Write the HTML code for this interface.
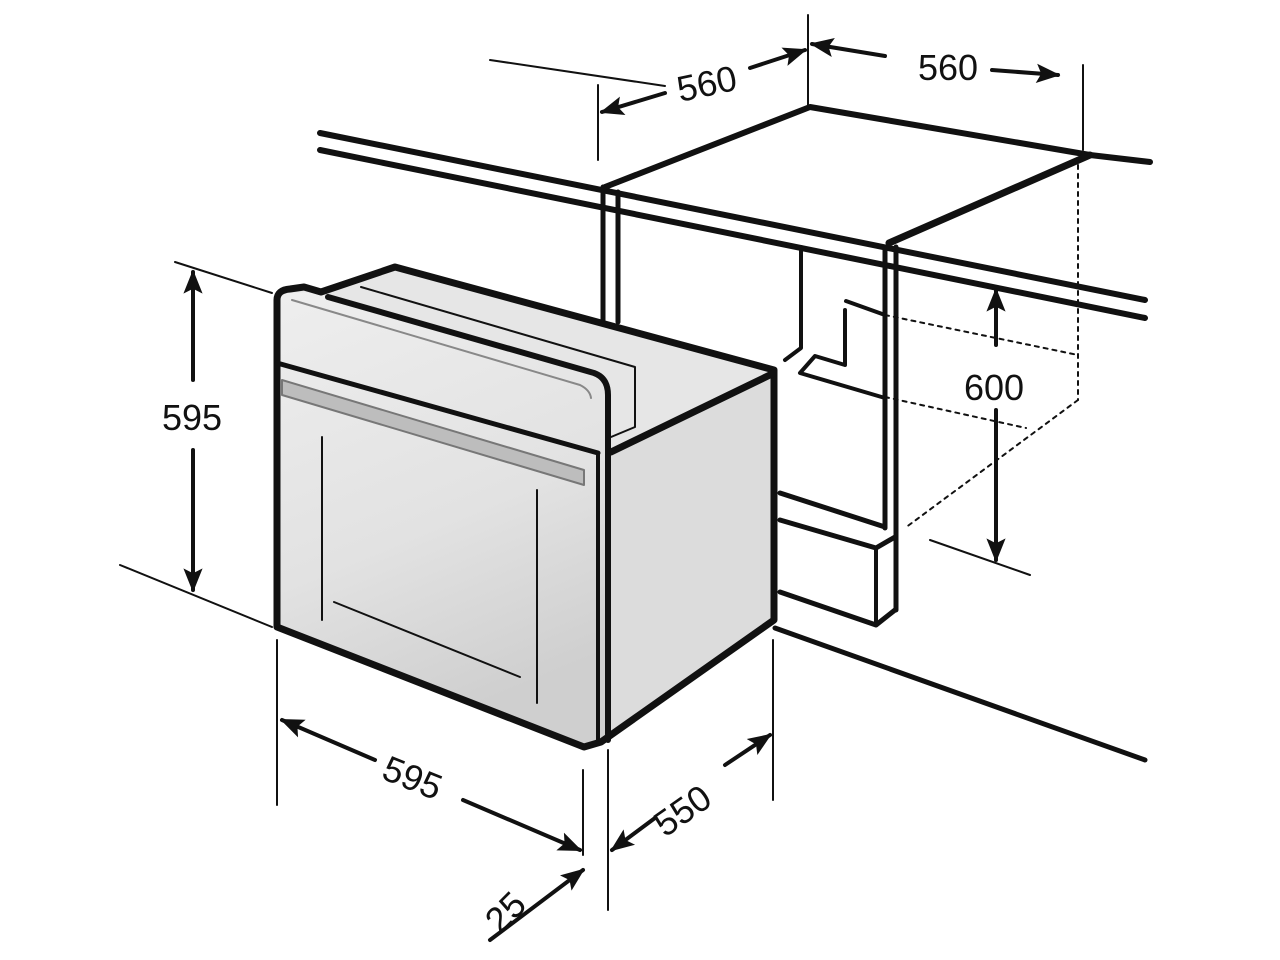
<!DOCTYPE html>
<html><head><style>
html,body{margin:0;padding:0;background:#fff;}
svg{display:block;}
text{font-family:"Liberation Sans",sans-serif;font-size:36px;fill:#111;}
</style></head><body>
<svg width="1280" height="960" viewBox="0 0 1280 960" xmlns="http://www.w3.org/2000/svg">
<defs>
<marker id="ah" viewBox="0 0 10 10" refX="9" refY="5" markerWidth="6" markerHeight="6" orient="auto-start-reverse">
<path d="M0,1 L10,5 L0,9 L2,5 z" fill="#111"/></marker>
<linearGradient id="fr" x1="0" y1="0" x2="0.3" y2="1">
<stop offset="0" stop-color="#eeeeee"/><stop offset="0.6" stop-color="#e2e2e2"/><stop offset="1" stop-color="#cfcfcf"/></linearGradient>
</defs>
<g stroke="#111" fill="none" stroke-linecap="round" stroke-linejoin="round">
<!-- countertop -->
<line x1="320" y1="133" x2="1145" y2="300" stroke-width="6"/>
<line x1="320" y1="150" x2="1145" y2="318" stroke-width="6"/>
<!-- niche top -->
<polyline points="605,187 810,107 1090,155 1150,162" stroke-width="6"/>
<line x1="1090" y1="155" x2="889" y2="243" stroke-width="7"/>
<!-- niche verticals -->
<line x1="603" y1="187" x2="603" y2="330" stroke-width="5"/>
<line x1="618" y1="192" x2="618" y2="322" stroke-width="5"/>
<line x1="885" y1="247" x2="885" y2="528" stroke-width="5"/>
<line x1="896" y1="247" x2="896" y2="610" stroke-width="5"/>
<!-- inner wall -->
<polyline points="801,247 801,348 785,360" stroke-width="4"/>
<line x1="846" y1="301" x2="885" y2="315" stroke-width="4"/>
<polyline points="845,310 845,365 815,356 800,373 885,398" stroke-width="4"/>
<!-- dashed -->
<g stroke-width="2" stroke-dasharray="4,5">
<line x1="885" y1="315" x2="1078" y2="355"/>
<line x1="1078" y1="165" x2="1078" y2="400"/>
<line x1="1078" y1="400" x2="905" y2="528"/>
<line x1="885" y1="397" x2="1026" y2="428"/>
</g>
<!-- plinth -->
<line x1="780" y1="493" x2="885" y2="527" stroke-width="5"/>
<polyline points="780,520 876,548 895,537" stroke-width="5"/>
<line x1="876" y1="548" x2="876" y2="625" stroke-width="4"/>
<polyline points="780,592 876,625 895,610" stroke-width="5"/>
<line x1="775" y1="628" x2="1145" y2="760" stroke-width="5"/>
<!-- 600 -->
<line x1="930" y1="540" x2="1030" y2="575" stroke-width="2"/>
<line x1="996" y1="290" x2="996" y2="345" stroke-width="4" marker-start="url(#ah)"/>
<line x1="996" y1="410" x2="996" y2="560" stroke-width="4" marker-end="url(#ah)"/>
<!-- oven top face -->
<path d="M277,293 L304,287 L321,292 L395,267 L774,370 L611,450 L608,390 Z" fill="#e6e6e6" stroke="none"/>
<!-- side face -->
<path d="M608,453 L774,373 L774,620 L601,740 Z" fill="#dcdcdc" stroke="none"/>
<!-- front -->
<path d="M277,293 L321,292 L594,373 Q608,378 608,395 L608,740 L584,747 L277,627 Z" fill="url(#fr)" stroke="none"/>
<!-- handle -->
<path d="M282,380 L584,470 L584,485 L282,395 Z" fill="#bdbdbd" stroke="#777" stroke-width="2"/>
<!-- oven outlines -->
<path d="M277,627 L277,300 Q277,290 290,289 L304,287 L321,292 L395,267 L774,370 L774,620 L601,742 L584,747 L277,627" stroke-width="7"/>
<path d="M328,297 L594,373 Q608,378 608,395 L608,740" stroke-width="6"/>
<line x1="277" y1="363" x2="598" y2="453" stroke-width="5"/>
<line x1="598" y1="453" x2="598" y2="740" stroke-width="4"/>
<line x1="611" y1="452" x2="774" y2="373" stroke-width="7"/>
<polyline points="361,287 635,367 635,427 611,437" stroke-width="2"/>
<path d="M292,300 L580,385 Q590,390 591,398" stroke="#888" stroke-width="2"/>
<line x1="322" y1="437" x2="322" y2="620" stroke-width="2"/>
<line x1="537" y1="490" x2="537" y2="703" stroke-width="2"/>
<line x1="334" y1="602" x2="520" y2="677" stroke-width="2"/>
<!-- left 595 -->
<line x1="175" y1="262" x2="272" y2="293" stroke-width="2"/>
<line x1="120" y1="565" x2="272" y2="627" stroke-width="2"/>
<line x1="193" y1="272" x2="193" y2="380" stroke-width="4" marker-start="url(#ah)"/>
<line x1="193" y1="450" x2="193" y2="590" stroke-width="4" marker-end="url(#ah)"/>
<!-- bottom extension -->
<line x1="277" y1="640" x2="277" y2="805" stroke-width="2"/>
<line x1="583" y1="770" x2="583" y2="855" stroke-width="2"/>
<line x1="608" y1="750" x2="608" y2="910" stroke-width="2"/>
<line x1="773" y1="640" x2="773" y2="800" stroke-width="2"/>
<line x1="375" y1="760" x2="282" y2="720" stroke-width="4" marker-end="url(#ah)"/>
<line x1="463" y1="800" x2="580" y2="850" stroke-width="4" marker-end="url(#ah)"/>
<line x1="655" y1="818" x2="612" y2="850" stroke-width="4" marker-end="url(#ah)"/>
<line x1="725" y1="765" x2="770" y2="735" stroke-width="4" marker-end="url(#ah)"/>
<line x1="490" y1="940" x2="583" y2="870" stroke-width="4" marker-end="url(#ah)"/>
<!-- top 560 -->
<line x1="490" y1="60" x2="665" y2="86" stroke-width="2"/>
<line x1="598" y1="85" x2="598" y2="160" stroke-width="2"/>
<line x1="808" y1="15" x2="808" y2="105" stroke-width="2"/>
<line x1="1083" y1="65" x2="1083" y2="150" stroke-width="2"/>
<line x1="665" y1="93" x2="602" y2="112" stroke-width="4" marker-end="url(#ah)"/>
<line x1="750" y1="68" x2="805" y2="50" stroke-width="4" marker-end="url(#ah)"/>
<line x1="885" y1="56" x2="812" y2="44" stroke-width="4" marker-end="url(#ah)"/>
<line x1="992" y1="70" x2="1058" y2="75" stroke-width="4" marker-end="url(#ah)"/>
</g>
<text x="162" y="430">595</text>
<text x="964" y="400">600</text>
<text transform="translate(380,778) rotate(22)">595</text>
<text transform="translate(665,838) rotate(-35)">550</text>
<text transform="translate(500,935) rotate(-45)">25</text>
<text transform="translate(680,102) rotate(-12)">560</text>
<text x="918" y="80">560</text>
</svg>
</body></html>
